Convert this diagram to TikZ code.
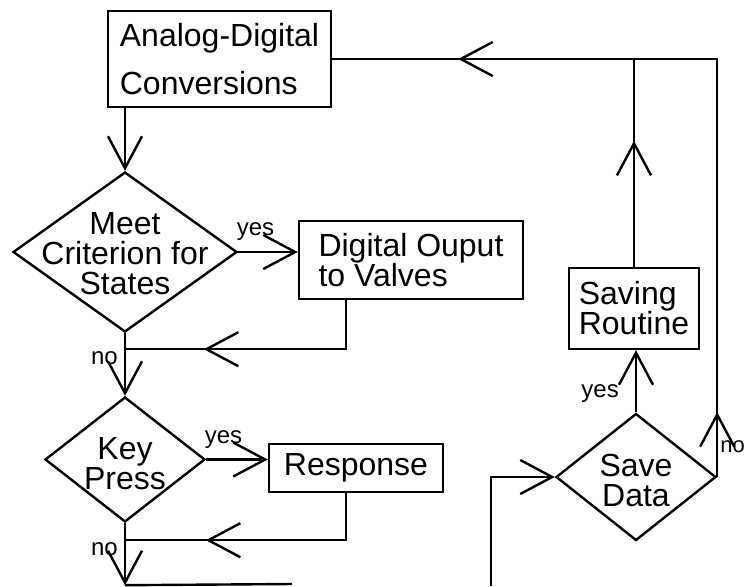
\documentclass[tikz,border=0pt]{standalone}
\usepackage{fontspec}
\setmainfont{Liberation Sans}
\usetikzlibrary{arrows.meta,shapes.geometric,decorations.markings,positioning}

\begin{document}
\begin{tikzpicture}[x=0.5pt,y=-0.5pt,line width=1.2pt,>={Straight Barb[length=16pt,width=17pt]},
    box/.style={draw,rectangle,align=left,inner sep=0pt,font={\fontsize{16}{15}\selectfont}},
    decision/.style={draw,diamond,inner sep=0pt},
    dtext/.style={align=center,inner sep=0pt,font={\fontsize{16}{15}\selectfont}},
    lab/.style={inner sep=1pt,font={\fontsize{12}{13}\selectfont}},
    midtip/.style={postaction={decorate,decoration={markings,mark=at position #1 with {\arrow{>}}}}}]
    \useasboundingbox (0,0) rectangle (746,586);
    % boxes
    \node[box,minimum width=111.5pt,minimum height=48pt,font={\fontsize{16}{24}\selectfont}] (analog) at (219.5,59) {Analog-Digital\\Conversions};
    \node[box,minimum width=112pt,minimum height=39pt] (valves) at (411,260) {Digital Ouput\\to Valves};
    \node[box,minimum width=87pt,minimum height=24pt] (response) at (356,468) {Response};
    \node[box,minimum width=65pt,minimum height=40.5pt] (saving) at (634,308.5) {Saving\\Routine};
    % decisions, text laid on top
    \node[decision,minimum width=112pt,minimum height=80pt] (meet) at (125,252) {};
    \node[decision,minimum width=80pt,minimum height=62.5pt] (key) at (125,459.5) {};
    \node[decision,minimum width=80pt,minimum height=63.5pt] (save) at (636,477) {};
    \node[dtext] (meettext) at ([yshift=-1pt]meet) {Meet\\Criterion for\\States};
    \node[dtext] (keytext) at ([yshift=-2pt]key) {Key\\Press};
    \node[dtext] (savetext) at ([yshift=-1.5pt]save) {Save\\Data};
    % joints and loose ends
    \coordinate (j1) at ([yshift=-8pt]meet.south);
    \coordinate (j2) at ([yshift=-8.5pt]key.south);
    \coordinate (k3) at ([yshift=-31pt]key.south);
    \coordinate (offend) at (292,584);
    \coordinate (feed) at (491,586);
    % connectors
    \draw[->] (meet.north |- analog.south) -- (meet.north);
    \draw[->] (meet.east) -- node[lab,above=4pt,pos=0.29]{yes} (meet.east -| valves.west);
    \draw[midtip=95.5pt] ([xshift=24pt]valves.south west) |- (j1);
    \draw[->] (meet.south) -- node[lab,left=2pt,pos=0.4]{no} (key.north);
    \draw[->] (key.east) -- node[lab,above=4pt,pos=0.28]{yes} (key.east -| response.west);
    \draw[midtip=93.5pt] ([xshift=39pt]response.south west) |- (j2);
    \draw[->] (key.south) -- node[lab,left=2pt,pos=0.42]{no} (k3);
    \draw (k3) -- (offend);
    \draw[->] (feed) |- (save.west);
    \draw[->] (save.north) -- node[lab,left=7pt,pos=0.31]{yes} (save.north |- saving.south);
    \draw[midtip=63pt] (saving.north) -- (saving.north |- analog.east);
    \draw[midtip=32.5pt,midtip=338.5pt] (save.east) |- node[lab,right=0.5pt,pos=0.036,inner sep=0.5pt,font={\fontsize{11}{13}\selectfont}]{no} (analog.east);
\end{tikzpicture}
\end{document}
